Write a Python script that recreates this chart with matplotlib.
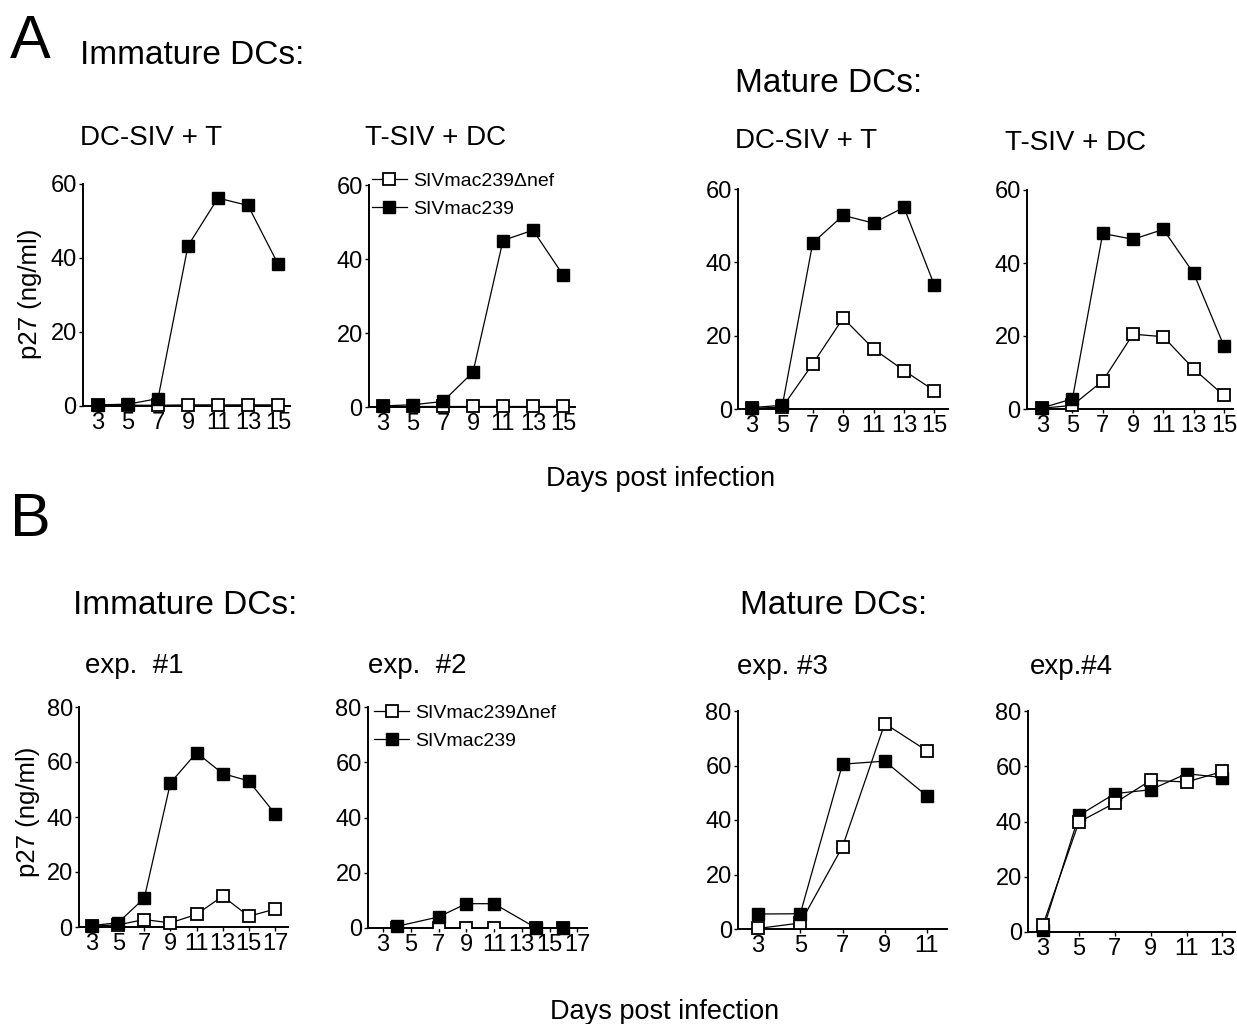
import matplotlib
matplotlib.use("Agg")
import matplotlib.pyplot as plt

plt.rcParams['font.family'] = ['Liberation Sans', 'DejaVu Sans']

W, H = 1237, 1024

# ---------------- data ----------------
labels = ["SIVmac239\u0394nef", "SIVmac239"]

# Panel A (ng/ml p27), days 3..15
a_days = [3, 5, 7, 9, 11, 13, 15]
a1_wt = [0.3, 0.5, 2.0, 43.3, 56.2, 54.2, 38.4]
a1_dnef = [0.2, 0.2, 0.2, 0.3, 0.3, 0.3, 0.3]
a2_wt = [0.3, 0.6, 1.5, 9.4, 45.0, 47.8, 35.7]
a2_dnef = [0.2, 0.2, 0.2, 0.2, 0.2, 0.2, 0.2]
a3_wt = [0.4, 1.0, 45.3, 52.8, 50.7, 55.0, 33.8]
a3_dnef = [0.2, 0.5, 12.3, 24.8, 16.4, 10.5, 5.0]
a4_wt = [0.3, 2.8, 48.1, 46.5, 49.2, 37.2, 17.3]
a4_dnef = [0.2, 1.0, 7.7, 20.5, 19.8, 11.0, 3.7]

# Panel B
b1_days = [3, 5, 7, 9, 11, 13, 15, 17]
b1_wt = [0.5, 1.6, 10.5, 52.4, 63.4, 55.8, 53.1, 41.2]
b1_dnef = [0.3, 0.8, 2.7, 1.5, 4.6, 11.2, 3.9, 6.5]
b2_days = [4, 7, 9, 11, 14, 16]
b2_wt = [0.6, 4.0, 8.8, 8.8, 0.1, 0.1]
b2_dnef = [0.0, 0.0, 0.0, 0.0, 0.0, 0.0]
b3_days = [3, 5, 7, 9, 11]
b3_wt = [5.5, 5.6, 60.5, 61.6, 48.8]
b3_dnef = [0.2, 2.2, 30.2, 75.4, 65.4]
b4_days = [3, 5, 7, 9, 11, 13]
b4_wt = [0.8, 42.2, 50.1, 51.5, 57.3, 55.9]
b4_dnef = [2.7, 39.8, 46.7, 54.9, 54.3, 58.1]

a_yticks = [0, 20, 40, 60]
b_yticks = [0, 20, 40, 60, 80]
b1_xticks = [3, 5, 7, 9, 11, 13, 15, 17]
b3_xticks = [3, 5, 7, 9, 11]
b4_xticks = [3, 5, 7, 9, 11, 13]

fig = plt.figure(figsize=(W / 100, H / 100), dpi=100)


def add_ax(x0, x1, y_bottom, y_top):
    # pixel coords (top-origin) -> figure fraction
    return fig.add_axes([x0 / W, 1 - y_bottom / H, (x1 - x0) / W, (y_bottom - y_top) / H])


def panel(ax, days, wt, dnef, xlim, ylim, xticks, yticks, open_on_top=False,
          ms=9, open_clip=False):
    z_open, z_fill = (4, 3) if open_on_top else (3, 4)
    ax.plot(days, dnef, color='black', lw=0.9, marker='s', ms=ms, mfc='white',
            mec='black', mew=1.3, clip_on=open_clip, zorder=z_open, label=labels[0])
    ax.plot(days, wt, color='black', lw=0.9, marker='s', ms=ms, mfc='black',
            mec='black', mew=1.0, clip_on=False, zorder=z_fill, label=labels[1])
    ax.set_xlim(*xlim)
    ax.set_ylim(*ylim)
    ax.set_xticks(xticks)
    ax.set_yticks(yticks)
    for s in ['top', 'right']:
        ax.spines[s].set_visible(False)
    for s in ['left', 'bottom']:
        ax.spines[s].set_linewidth(1.4)
    ax.tick_params(axis='both', labelsize=17, length=3, width=1.0, pad=1.5, direction='out')
    ax.patch.set_alpha(0)


# ---- Panel A axes ----
ax1 = add_ax(83, 290, 406, 184)
panel(ax1, a_days, a1_wt, a1_dnef, (2.0, 15.8), (0, 60), a_days, a_yticks)
ax2 = add_ax(369, 575, 407, 185)
panel(ax2, a_days, a2_wt, a2_dnef, (2.07, 15.8), (0, 60), a_days, a_yticks)
ax3 = add_ax(738, 948, 409, 189)
panel(ax3, a_days, a3_wt, a3_dnef, (2.08, 15.9), (0, 60), a_days, a_yticks)
ax4 = add_ax(1027, 1233, 409, 190)
panel(ax4, a_days, a4_wt, a4_dnef, (2.0, 15.6), (0, 60), a_days, a_yticks)

# ---- Panel B axes ----
bx1 = add_ax(79, 288, 927, 707)
panel(bx1, b1_days, b1_wt, b1_dnef, (2.0, 18.0), (0, 80), b1_xticks, b_yticks)
bx2 = add_ax(368, 587, 928, 707)
panel(bx2, b2_days, b2_wt, b2_dnef, (1.92, 17.7), (0, 80), b1_xticks, b_yticks,
      open_clip=True)
bx3 = add_ax(738, 947, 929, 711)
panel(bx3, b3_days, b3_wt, b3_dnef, (2.05, 11.95), (0, 80), b3_xticks, b_yticks)
bx4 = add_ax(1028, 1235, 932, 711)
panel(bx4, b4_days, b4_wt, b4_dnef, (2.16, 13.7), (0, 80), b4_xticks, b_yticks, open_on_top=True)

# ---- legends ----
for ax, (lx, ly) in [(ax2, (372, 172)), (bx2, (374, 704))]:
    ax.legend(loc='upper left', bbox_to_anchor=(lx / W, 1 - ly / H),
              bbox_transform=fig.transFigure, frameon=False, fontsize=14,
              handlelength=1.8, handletextpad=0.3, labelspacing=0.55,
              borderaxespad=0, borderpad=0, markerscale=0.9)


def ftext(x, y, s, size, ha='left', va='center', **kw):
    fig.text(x / W, 1 - y / H, s, fontsize=size, ha=ha, va=va, **kw)


# ---- texts ----
ftext(30, 43, "A", 44, ha='center')
ftext(80, 56, "Immature DCs:", 24)
ftext(735, 84, "Mature DCs:", 24)
ftext(80, 138, "DC-SIV + T", 20)
ftext(365, 138, "T-SIV + DC", 20)
ftext(735, 141, "DC-SIV + T", 20)
ftext(1005, 143, "T-SIV + DC", 20)
ftext(30, 294, "p27 (ng/ml)", 18.5, ha='center', rotation=90)
ftext(661, 479, "Days post infection", 19.5, ha='center')

ftext(30, 520, "B", 44, ha='center')
ftext(73, 606, "Immature DCs:", 24)
ftext(740, 606, "Mature DCs:", 24)
ftext(85, 666, "exp.  #1", 20)
ftext(368, 666, "exp.  #2", 20)
ftext(737, 667, "exp. #3", 20)
ftext(1030, 667, "exp.#4", 20)
ftext(28, 812, "p27 (ng/ml)", 18.5, ha='center', rotation=90)
ftext(665, 1012, "Days post infection", 19.5, ha='center')

fig.savefig("out.png", dpi=100, facecolor='white')
